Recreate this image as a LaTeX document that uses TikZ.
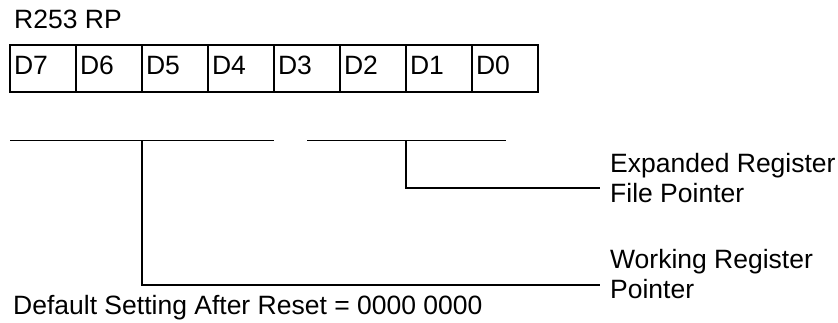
\documentclass[tikz,border=0pt]{standalone}
\usepackage{fontspec}
\setmainfont{Liberation Sans}
\usetikzlibrary{calc}
\tikzstyle{bitcell}=[draw,line width=1.5pt,outer sep=0pt,minimum height=47pt,text width=58pt,inner xsep=4pt,text depth=7pt,align=left]
\tikzstyle{field}=[line width=1pt]
\tikzstyle{pointer}=[line width=1.5pt]
\tikzstyle{tag}=[align=left,anchor=west,inner xsep=10pt,inner ysep=0pt]

\begin{document}
\begin{tikzpicture}[x=1pt,y=-1pt,font=\fontsize{26.5}{30}\selectfont]
  \useasboundingbox (0,0) rectangle (838,322);
  \node[anchor=base west,inner sep=0pt] (title) at (14,28) {R253 RP};
  % the eight bits of the register
  \foreach \b [count=\k from 0] in {7,...,0}
    \node[bitcell] (d\b) at (43+66*\k,68.5) {D\b};
  % fields under the register
  \coordinate (wpl) at (10,140);
  \coordinate (wpr) at (274,140);
  \coordinate (epl) at (307,140);
  \coordinate (epr) at (506,140);
  \draw[field] (wpl) -- (wpr);
  \draw[field] (epl) -- (epr);
  \coordinate (wptap) at (d6.east |- wpl);
  \coordinate (eptap) at (d2.east |- epl);
  \node[tag] (erfp) at (600,178) {Expanded Register\\File Pointer};
  \node[tag] (wrp) at (600,274) {Working Register\\Pointer};
  \draw[pointer] (eptap) |- ([yshift=-10pt]erfp.west);
  \draw[pointer] (wptap) |- ([yshift=-11pt]wrp.west);
  \node[anchor=base west,inner sep=0pt] (reset) at (13,314) {Default Setting After Reset = 0000 0000};
\end{tikzpicture}
\end{document}
